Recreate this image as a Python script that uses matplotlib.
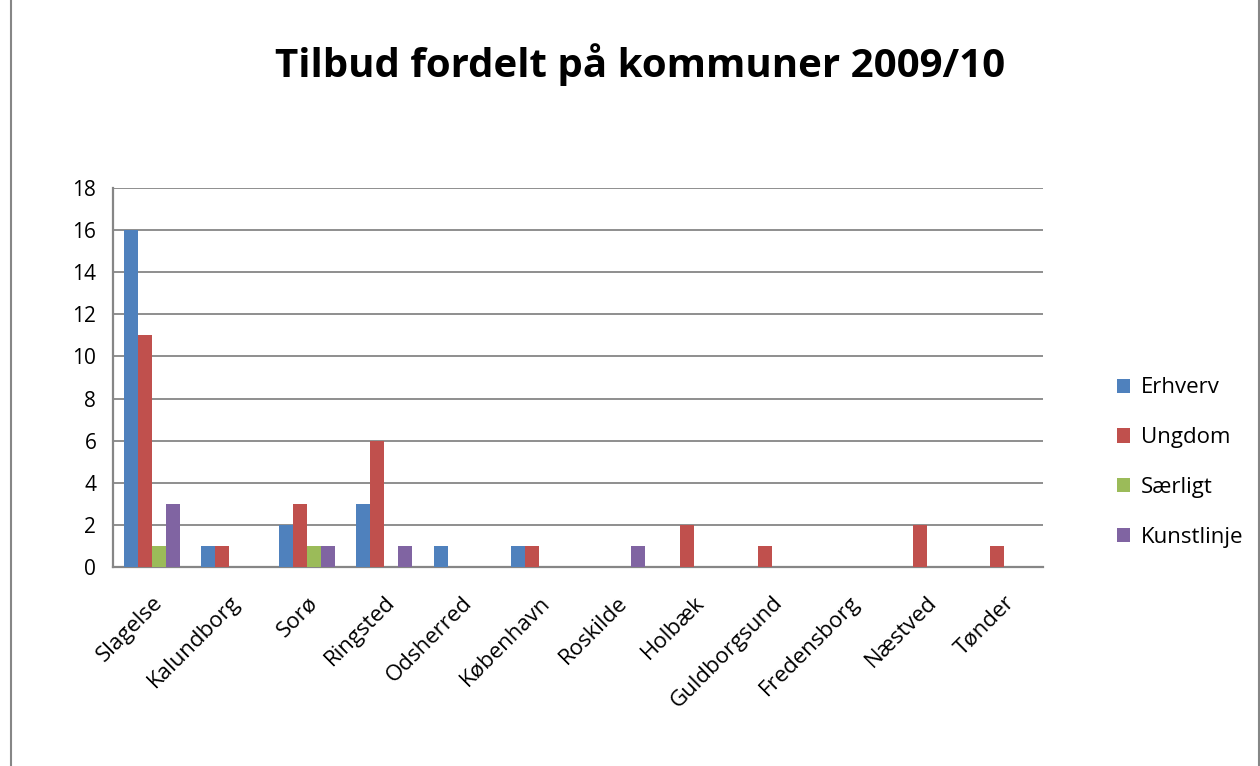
import numpy as np
import matplotlib.pyplot as plt
from matplotlib.patches import Rectangle

plt.rcParams['font.family'] = ['Open Sans', 'DejaVu Sans']

kommuner = ["Slagelse", "Kalundborg", "Sorø", "Ringsted", "Odsherred", "København",
            "Roskilde", "Holbæk", "Guldborgsund", "Fredensborg", "Næstved", "Tønder"]
erhverv = [16, 1, 2, 3, 1, 1, 0, 0, 0, 0, 0, 0]
ungdom = [11, 1, 3, 6, 0, 1, 0, 2, 1, 0, 2, 1]
saerligt = [1, 0, 1, 0, 0, 0, 0, 0, 0, 0, 0, 0]
kunstlinje = [3, 0, 1, 1, 0, 0, 1, 0, 0, 0, 0, 0]

serier = [("Erhverv", erhverv, "#4F81BD"),
          ("Ungdom", ungdom, "#C0504D"),
          ("Særligt", saerligt, "#9BBB59"),
          ("Kunstlinje", kunstlinje, "#8064A2")]

fig = plt.figure(figsize=(12.6, 7.66), dpi=100)
ax = fig.add_axes([0.0897, 0.2598, 0.738, 0.4948])

x = np.arange(len(kommuner))
w = 0.18
for i, (navn, vals, farve) in enumerate(serier):
    ax.bar(x + (i - 1.5) * w, vals, w, color=farve, label=navn, zorder=3)

ax.set_xlim(-0.5, len(kommuner) - 0.5)
ax.set_ylim(0, 18)
ax.set_yticks(range(0, 19, 2))
ax.yaxis.grid(True, color="#868686", linewidth=1.3, zorder=0)
for s in ["top", "right"]:
    ax.spines[s].set_visible(False)
for s in ["left", "bottom"]:
    ax.spines[s].set_color("#868686")
    ax.spines[s].set_linewidth(1.6)
ax.tick_params(axis="y", length=0, labelsize=15, pad=12)
ax.tick_params(axis="x", length=0, labelsize=16, pad=18)
ax.set_xticks(x)
ax.set_xticklabels(kommuner, rotation=45, ha="right", rotation_mode="anchor")

fig.text(0.508, 0.8995, "Tilbud fordelt på kommuner 2009/10", ha="center", va="baseline",
         fontsize=29, fontweight="bold")

ax.legend(loc="center left", bbox_to_anchor=(1.058, 0.275), frameon=False,
          fontsize=16, handlelength=0.6, handleheight=0.6, labelspacing=1.3,
          handletextpad=0.5)

fig.patches.append(Rectangle((0.009, -0.01), 0.99, 1.02, transform=fig.transFigure,
                             fill=False, edgecolor="#868686", linewidth=1.5))

fig.savefig("out.png", dpi=100)
